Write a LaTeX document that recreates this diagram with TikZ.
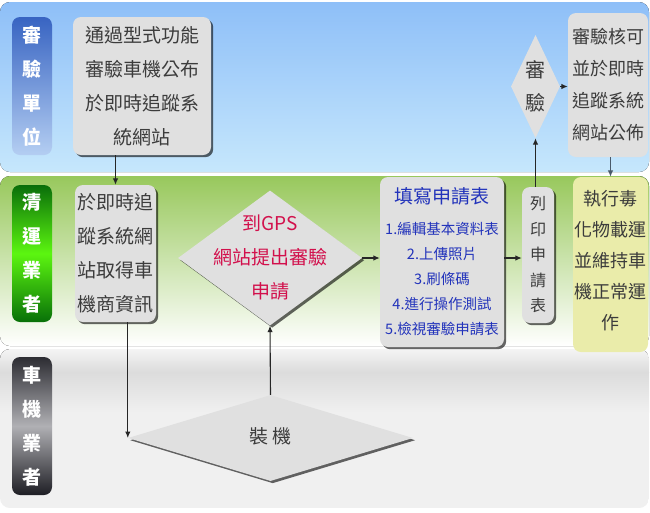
\documentclass[tikz,border=0pt]{standalone}
\usepackage{fontspec}
\setmainfont{Noto Sans CJK TC}
\usetikzlibrary{shapes.geometric,shadows,arrows.meta}
\definecolor{bandBlueTop}{HTML}{8EBFF8}
\definecolor{bandBlueBot}{HTML}{C6E7FC}
\definecolor{bandGreenTop}{HTML}{98C85C}
\definecolor{greyband}{HTML}{F0F0F0}
\definecolor{greytop}{HTML}{F4F4F4}
\definecolor{greydark}{HTML}{DCDCDC}
\definecolor{boxgrey}{HTML}{E0E0E0}
\definecolor{txtgrey}{HTML}{3C3C3C}
\definecolor{gpsred}{HTML}{D2104C}
\definecolor{listblue}{HTML}{2233BB}
\definecolor{yellowbox}{HTML}{EAECAA}
\definecolor{slate}{HTML}{4A5A6A}
\definecolor{laneBlueTop}{HTML}{3864C2}
\definecolor{laneBlueBot}{HTML}{B4CEF2}
\definecolor{laneGreenTop}{HTML}{0A6E0A}
\definecolor{laneGreenMid}{HTML}{5CF610}
\definecolor{laneGreenBot}{HTML}{087008}
\definecolor{laneDarkTop}{HTML}{2C2C32}
\definecolor{laneDarkMid}{HTML}{B0B0B4}
\definecolor{laneDarkBot}{HTML}{1E1E24}
\begin{document}
\begin{tikzpicture}[x=1pt,y=-1pt,
  lane/.style={rounded corners=8pt, minimum width=40pt, minimum height=138pt, inner sep=0pt,
    text=white, align=center, font=\fontsize{19pt}{34pt}\selectfont\bfseries},
  box/.style={rounded corners=8pt, fill=boxgrey, inner sep=0pt, align=center, text=txtgrey,
    font=\fontsize{19pt}{34pt}\selectfont},
  shad/.style={drop shadow={shadow xshift=2.2pt, shadow yshift=-2.2pt, fill=black, opacity=0.6}},
  dia/.style={diamond, fill=boxgrey, inner sep=0pt, aspect=1},
  arr/.style={-{Latex[length=6.5pt,width=5.5pt]}, line width=1.1pt, draw=black!85}
]
\useasboundingbox (0,0) rectangle (650,512);
\fill[white] (0,0) rectangle (650,512);
% bands
\fill[rounded corners=10pt, top color=bandBlueTop, bottom color=bandBlueBot] (0,2) rectangle (649,172);
\fill[rounded corners=10pt, top color=bandGreenTop, bottom color=white] (0,176) rectangle (649,346);
\begin{scope}
\clip[rounded corners=10pt] (0,349) rectangle (649,508);
\fill[greyband] (0,349) rectangle (649,508);
\fill[top color=greytop, bottom color=greydark] (0,349) rectangle (649,372);
\fill[top color=greydark, bottom color=greyband] (0,372) rectangle (649,412);
\end{scope}
% lane labels
\node[lane, top color=laneBlueTop, bottom color=laneBlueBot] (l1) at (32,86) {審\\驗\\單\\位};
\node[lane, minimum height=137pt, top color=laneGreenTop, bottom color=laneGreenBot, middle color=laneGreenMid] (l2) at (32,253.5) {清\\運\\業\\者};
\node[lane, top color=laneDarkTop, bottom color=laneDarkBot, middle color=laneDarkMid] (l3) at (32,426) {車\\機\\業\\者};
% boxes
\node[box, shad, minimum width=138pt, minimum height=138pt] (b1) at (142,86) {通過型式功能\\審驗車機公布\\於即時追蹤系\\統網站};
\node[box, shad, minimum width=81pt, minimum height=137pt] (b2) at (115.5,253.5) {於即時追\\蹤系統網\\站取得車\\機商資訊};
\node[box, shad, minimum width=124pt, minimum height=170pt, text=listblue, font=\fontsize{14.5pt}{25pt}\selectfont] (b3) at (442,262)
  {{\fontsize{19pt}{25pt}\selectfont 填寫申請表}\\[6pt]1.編輯基本資料表\\2.上傳照片\\3.刷條碼\\4.進行操作測試\\5.檢視審驗申請表};
\node[box, shad, minimum width=32pt, minimum height=136pt, font=\fontsize{16pt}{25.5pt}\selectfont] (pb) at (538,255) {列\\印\\申\\請\\表};
\node[box, minimum width=80pt, minimum height=144pt, font=\fontsize{18pt}{32pt}\selectfont] (b5) at (608,85) {審驗核可\\並於即時\\追蹤系統\\網站公佈};
\node[box, fill=yellowbox, minimum width=75pt, minimum height=175pt] (b6) at (610.5,264.5) {};
\node[text=txtgrey, align=center, inner sep=0pt, font=\fontsize{18pt}{31pt}\selectfont] (b6t) at ([yshift=4pt]b6.center) {執行毒\\化物載運\\並維持車\\機正常運\\作};
% diamonds
\node[dia, shad, minimum width=184pt, minimum height=135pt] (gps) at (270,258) {};
\node[text=gpsred, align=center, font=\fontsize{19pt}{34pt}\selectfont] (gpst) at (gps.center) {到GPS\\網站提出審驗\\申請};
\node[dia, shad, minimum width=285pt, minimum height=86pt] (zj) at (270.5,438) {};
\node[text=txtgrey, font=\fontsize{19pt}{34pt}\selectfont] (zjt) at ([yshift=2pt]zj.center) {裝\,機};
\node[dia, minimum width=49pt, minimum height=103pt] (sy) at (535.5,86.5) {};
\node[text=txtgrey, align=center, font=\fontsize{20pt}{33pt}\selectfont] (syt) at (sy.center) {審\\驗};
% connectors
\draw[arr] (b1.south -| b2.north) -- (b2.north);
\draw[arr] (b2.south -| zj.west) -- (zj.west);
\draw[arr] (zj.north) -- (gps.south);
\draw[arr] (gps.east) -- (gps.east -| b3.west);
\draw[arr] (gps.east -| b3.east) -- (gps.east -| pb.west);
\draw[arr] (pb.north -| sy.south) -- (sy.south);
\draw[arr] (sy.east) -- (sy.east -| b5.west);
\draw[arr, draw=slate] (b5.south -| b6.north) -- (b6.north);
\end{tikzpicture}
\end{document}
